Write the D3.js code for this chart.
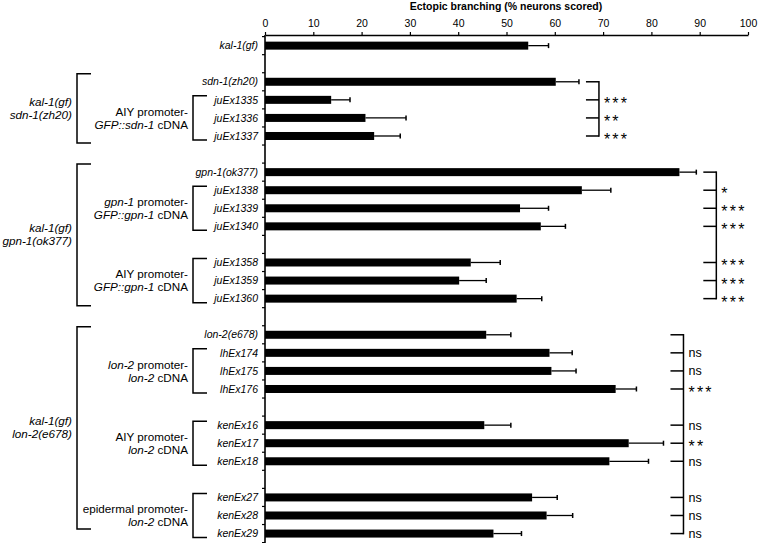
<!DOCTYPE html>
<html>
<head>
<meta charset="utf-8">
<script src="https://cdn.jsdelivr.net/npm/d3@7"></script>
<style>
  body { margin: 0; background: #fff; }
  svg { font-family: "Liberation Sans", Arial, sans-serif; }
</style>
</head>
<body>
<div id="chart"></div>
<script>
const width = 759;
const height = 543;

// rows top to bottom; gapN are empty spacer slots
const rows = ['kal-1(gf)', 'gap1', 'sdn-1(zh20)', 'juEx1335', 'juEx1336', 'juEx1337', 'gap2',
  'gpn-1(ok377)', 'juEx1338', 'juEx1339', 'juEx1340', 'gap3', 'juEx1358', 'juEx1359', 'juEx1360', 'gap4',
  'lon-2(e678)', 'lhEx174', 'lhEx175', 'lhEx176', 'gap5', 'kenEx16', 'kenEx17', 'kenEx18', 'gap6',
  'kenEx27', 'kenEx28', 'kenEx29'];
const values = [54.5, null, 60.2, 13.7, 20.8, 22.6, null,
  85.8, 65.6, 52.8, 57.1, null, 42.6, 40.2, 52.1, null,
  45.8, 58.9, 59.3, 72.6, null, 45.4, 75.3, 71.3, null,
  55.3, 58.3, 47.3];
const errors = [4.2, null, 4.8, 3.9, 8.4, 5.4, null,
  3.5, 6.0, 5.9, 5.1, null, 6.1, 5.6, 5.2, null,
  5.1, 4.7, 5.1, 4.3, null, 5.5, 7.2, 8.1, null,
  5.2, 5.4, 5.8];

const xTicks = [0, 10, 20, 30, 40, 50, 60, 70, 80, 90, 100];

// strain group brackets (text between underscores is italic)
const outerLabels = [['_kal-1(gf)_', '_sdn-1(zh20)_'], ['_kal-1(gf)_', '_gpn-1(ok377)_'], ['_kal-1(gf)_', '_lon-2(e678)_']];
const outerSpans = [['sdn-1(zh20)', 'juEx1337'], ['gpn-1(ok377)', 'juEx1360'], ['lon-2(e678)', 'kenEx29']];
const innerLabels = [['AIY promoter-', '_GFP::sdn-1_ cDNA'], ['_gpn-1_ promoter-', '_GFP::gpn-1_ cDNA'],
  ['AIY promoter-', '_GFP::gpn-1_ cDNA'], ['_lon-2_ promoter-', '_lon-2_ cDNA'],
  ['AIY promoter-', '_lon-2_ cDNA'], ['epidermal promoter-', '_lon-2_ cDNA']];
const innerSpans = [['juEx1335', 'juEx1337'], ['juEx1338', 'juEx1340'], ['juEx1358', 'juEx1360'],
  ['lhEx174', 'lhEx176'], ['kenEx16', 'kenEx18'], ['kenEx27', 'kenEx29']];

// significance vs. mutant control
const sigRefs = ['sdn-1(zh20)', 'gpn-1(ok377)', 'lon-2(e678)'];
const sigRows = [
  ['juEx1335', 'juEx1336', 'juEx1337'],
  ['juEx1338', 'juEx1339', 'juEx1340', 'juEx1358', 'juEx1359', 'juEx1360'],
  ['lhEx174', 'lhEx175', 'lhEx176', 'kenEx16', 'kenEx17', 'kenEx18', 'kenEx27', 'kenEx28', 'kenEx29']
];
const sigMarks = [
  ['***', '**', '***'],
  ['*', '***', '***', '***', '***', '***'],
  ['ns', 'ns', '***', 'ns', '**', 'ns', 'ns', 'ns', 'ns']
];

const svg = d3.select('#chart')
  .append('svg')
  .attr('width', width)
  .attr('height', height);

const x = d3.scaleLinear().domain([0, 100]).range([265, 748]);
const y = d3.scaleBand().domain(rows).range([36.6, 542.6]).padding(0);
const cy = r => y(r) + y.bandwidth() / 2;
const barH = 8;

function richText(sel, str) {
  str.split('_').forEach((part, i) => {
    if (part === '') return;
    sel.append('tspan').attr('font-style', i % 2 ? 'italic' : 'normal').text(part);
  });
}

// title
svg.append('text')
  .attr('x', 506).attr('y', 10)
  .attr('text-anchor', 'middle')
  .attr('font-size', 10.5)
  .attr('font-weight', 'bold')
  .text('Ectopic branching (% neurons scored)');

// top axis
const xAxis = svg.append('g')
  .attr('transform', 'translate(0,35)')
  .call(d3.axisTop(x).tickValues(xTicks).tickSize(3).tickSizeOuter(0).tickPadding(5));
xAxis.selectAll('text').attr('font-size', 10.5).attr('font-family', '"Liberation Sans", Arial, sans-serif');
xAxis.select('.domain').attr('stroke-width', 1.6);
xAxis.selectAll('.tick line').attr('stroke-width', 1.2);

// left axis with ticks at slot boundaries
const bounds = rows.map(r => y(r)).concat([y(rows[rows.length - 1]) + y.bandwidth()]);
svg.append('line')
  .attr('x1', x(0)).attr('x2', x(0))
  .attr('y1', 35).attr('y2', height)
  .attr('stroke', '#000').attr('stroke-width', 1.6);
svg.selectAll('.ytick')
  .data(bounds)
  .enter()
  .append('line')
  .attr('class', 'ytick')
  .attr('x1', x(0) - 3).attr('x2', x(0))
  .attr('y1', d => d).attr('y2', d => d)
  .attr('stroke', '#000').attr('stroke-width', 1.2);

const data = rows.map((r, i) => ({ name: r, value: values[i], err: errors[i] }))
  .filter(d => d.value !== null);

// row labels
svg.selectAll('.rowlabel')
  .data(data)
  .enter()
  .append('text')
  .attr('class', 'rowlabel')
  .attr('x', 258)
  .attr('y', d => cy(d.name))
  .attr('dy', '0.35em')
  .attr('text-anchor', 'end')
  .attr('font-size', 10.5)
  .attr('font-style', 'italic')
  .text(d => d.name);

// error bars
svg.selectAll('.err')
  .data(data)
  .enter()
  .append('line')
  .attr('x1', d => x(d.value)).attr('x2', d => x(d.value + d.err))
  .attr('y1', d => cy(d.name)).attr('y2', d => cy(d.name))
  .attr('stroke', '#000').attr('stroke-width', 1.3);
svg.selectAll('.cap')
  .data(data)
  .enter()
  .append('line')
  .attr('x1', d => x(d.value + d.err)).attr('x2', d => x(d.value + d.err))
  .attr('y1', d => cy(d.name) - 2.5).attr('y2', d => cy(d.name) + 2.5)
  .attr('stroke', '#000').attr('stroke-width', 1.5);

// bars
svg.selectAll('.bar')
  .data(data)
  .enter()
  .append('rect')
  .attr('x', x(0))
  .attr('y', d => cy(d.name) - barH / 2)
  .attr('width', d => x(d.value) - x(0))
  .attr('height', barH)
  .attr('fill', '#000');

// brackets on the left
function bracket(xv, xArm, top, bottom) {
  svg.append('path')
    .attr('d', `M${xArm},${top}H${xv}V${bottom}H${xArm}`)
    .attr('fill', 'none').attr('stroke', '#000').attr('stroke-width', 1.5);
}
function labelBlock(lines, xr, mid, size) {
  const lh = 13;
  lines.forEach((ln, i) => {
    const t = svg.append('text')
      .attr('x', xr)
      .attr('y', mid + (i - (lines.length - 1) / 2) * lh)
      .attr('dy', '0.35em')
      .attr('text-anchor', 'end')
      .attr('font-size', size);
    richText(t, ln);
  });
}

outerSpans.forEach((s, i) => {
  const top = y(s[0]) + 1;
  const bottom = Math.min(cy(s[1]) + 7, height - 14);
  bracket(77, 91, top, bottom);
  labelBlock(outerLabels[i], 72, (top + bottom) / 2, 11.7);
});
innerSpans.forEach((s, i) => {
  const top = cy(s[0]) - 4;
  const bottom = cy(s[1]) + 4;
  bracket(193, 207, top, bottom);
  labelBlock(innerLabels[i], 188, (top + bottom) / 2, 11.7);
});

// significance brackets on the right
sigRefs.forEach((ref, g) => {
  const members = [ref].concat(sigRows[g]);
  const maxErr = d3.max(data.filter(d => members.includes(d.name)), d => d.value + d.err);
  const xl = x(maxErr) + 7;
  const xv = xl + 13;
  svg.append('line')
    .attr('x1', xv).attr('x2', xv)
    .attr('y1', cy(ref) - 0.75).attr('y2', cy(members[members.length - 1]) + 0.75)
    .attr('stroke', '#000').attr('stroke-width', 1.5);
  svg.selectAll(null)
    .data(members)
    .enter()
    .append('line')
    .attr('x1', xl).attr('x2', xv)
    .attr('y1', d => cy(d)).attr('y2', d => cy(d))
    .attr('stroke', '#000').attr('stroke-width', 1.5);
  svg.selectAll(null)
    .data(sigRows[g])
    .enter()
    .append('text')
    .attr('x', xv + 5)
    .attr('y', (d, i) => sigMarks[g][i] === 'ns' ? cy(d) : cy(d) + 9)
    .attr('dy', (d, i) => sigMarks[g][i] === 'ns' ? '0.35em' : 0)
    .attr('font-size', (d, i) => sigMarks[g][i] === 'ns' ? 12.5 : 16)
    .attr('letter-spacing', (d, i) => sigMarks[g][i] === 'ns' ? 0 : 2.2)
    .text((d, i) => sigMarks[g][i]);
});
</script>
</body>
</html>
